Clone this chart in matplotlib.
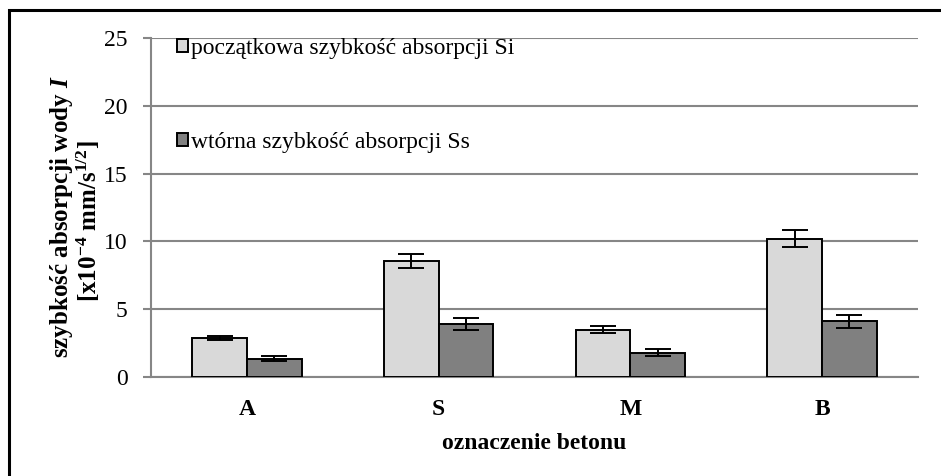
import numpy as np
import matplotlib
matplotlib.use('Agg')
import matplotlib.pyplot as plt
from matplotlib.patches import Rectangle

plt.rcParams['font.family'] = ['Liberation Serif', 'DejaVu Serif']
plt.rcParams['mathtext.fontset'] = 'custom'
plt.rcParams['mathtext.rm'] = 'Liberation Serif:bold'
plt.rcParams['mathtext.bf'] = 'Liberation Serif:bold'
plt.rcParams['mathtext.it'] = 'Liberation Serif:italic'
plt.rcParams['mathtext.bfit'] = 'Liberation Serif:bold:italic'

# data
categories = ['A', 'S', 'M', 'B']
si_values = [2.85, 8.55, 3.5, 10.2]
si_err = [0.15, 0.5, 0.25, 0.63]
ss_values = [1.35, 3.9, 1.8, 4.1]
ss_err = [0.2, 0.47, 0.26, 0.46]
legend_labels = ['początkowa szybkość absorpcji Si', 'wtórna szybkość absorpcji Ss']

GRID = '#868686'

fig = plt.figure(figsize=(9.41, 4.76), dpi=100)
ax = fig.add_axes([151/941, 1 - 377/476, (918 - 151)/941, (377 - 38)/476])

x = np.arange(len(categories))
w = 0.285
ekw = dict(ecolor='black', elinewidth=1.4, capthick=1.4)
ax.bar(x - w/2, si_values, w, color='#D9D9D9', edgecolor='black', linewidth=1.4,
       yerr=si_err, capsize=9.5, error_kw=ekw, label=legend_labels[0], zorder=3)
ax.bar(x + w/2, ss_values, w, color='#808080', edgecolor='black', linewidth=1.4,
       yerr=ss_err, capsize=9.5, error_kw=ekw, label=legend_labels[1], zorder=3)

ax.set_xlim(-0.5, len(categories) - 0.5)
ax.set_ylim(0, 25)
ax.set_yticks([0, 5, 10, 15, 20, 25])
ax.yaxis.grid(True, color=GRID, linewidth=1.5, zorder=0)
ax.set_axisbelow(True)
for s in ['top', 'right']:
    ax.spines[s].set_visible(False)
for s in ['left', 'bottom']:
    ax.spines[s].set_color(GRID)
    ax.spines[s].set_linewidth(1.5)
ax.tick_params(axis='y', colors=GRID, length=6, width=1.5, labelsize=17, labelcolor='black', pad=11)
ax.tick_params(axis='x', length=0, labelsize=17, pad=16)
ax.set_xticks(x)
ax.set_xticklabels(categories, fontweight='bold')
ax.set_xlabel('oznaczenie betonu', fontsize=17, fontweight='bold', labelpad=9)

fig.text(62/941, 1 - 217/476, r'szybkość absorpcji wody $\mathbfit{I}$', rotation=90,
         ha='center', va='center', fontsize=18, fontweight='bold')
fig.text(88/941, 1 - 221/476, r'[x10$^{-4}$ mm/s$^{1/2}$]', rotation=90,
         ha='center', va='center', fontsize=18, fontweight='bold')

ax.legend(loc='upper left', bbox_to_anchor=(0.022, 1.028), frameon=False, fontsize=17,
          handlelength=0.45, handleheight=0.45, handletextpad=0.15, labelspacing=3.1,
          borderaxespad=0)

# outer frame
fig.patches.append(Rectangle((9/941, -0.1), 1.2, 1 - 10/476 + 0.1, transform=fig.transFigure,
                             fill=False, edgecolor='black', linewidth=2.2))

fig.savefig('out.png', dpi=100)
